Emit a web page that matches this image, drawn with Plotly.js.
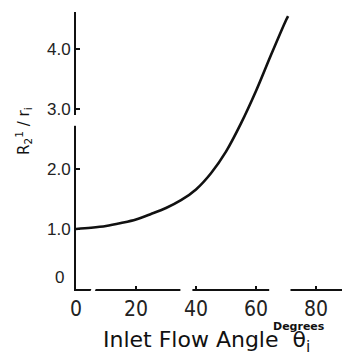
<!DOCTYPE html>
<html>
<head>
<meta charset="utf-8">
<script src="https://cdn.plot.ly/plotly-3.0.1.min.js"></script>
<style>
html,body{margin:0;padding:0;background:#fff;}
#chart{width:342px;height:356px;}
</style>
</head>
<body>
<div id="chart"></div>
<script>
// Data
const inletAngle = [0, 5, 10, 15, 20, 25, 30, 35, 40, 45, 50, 55, 60, 65, 70, 70.7];
const radiusRatio = [1.00, 1.02, 1.05, 1.10, 1.16, 1.25, 1.35, 1.48, 1.66, 1.93, 2.29, 2.76, 3.30, 3.90, 4.48, 4.55];
const xTickVals = [0, 20, 40, 60, 80];
const xTickText = ["0", "20", "40", "60", "80"];
const yTickVals = [1, 2, 3, 4];
const yTickText = ["1.0", "2.0", "3.0", "4.0"];

const trace = {
  x: inletAngle,
  y: radiusRatio,
  type: 'scatter',
  mode: 'lines',
  line: {color: '#111', width: 2.6, shape: 'spline', smoothing: 1},
  hoverinfo: 'skip'
};

const layout = {
  width: 342, height: 356,
  margin: {l: 76, r: 0, t: 12, b: 67, pad: 0},
  paper_bgcolor: '#fff', plot_bgcolor: '#fff',
  showlegend: false,
  font: {family: 'DejaVu Sans, Liberation Sans, sans-serif', color: '#111'},
  xaxis: {
    range: [0, 88.67], fixedrange: true,
    showgrid: false, zeroline: false,
    showline: true, linecolor: '#111', linewidth: 2,
    ticks: 'inside', ticklen: 3, tickwidth: 1.5, tickcolor: '#111',
    tickmode: 'array', tickvals: xTickVals, ticktext: xTickText,
    tickfont: {family: 'Liberation Sans Narrow, DejaVu Sans Condensed, sans-serif', size: 21, color: '#222'}
  },
  yaxis: {
    range: [0, 4.617], fixedrange: true,
    showgrid: false, zeroline: false,
    showline: true, linecolor: '#111', linewidth: 2,
    ticks: 'inside', ticklen: 4, tickwidth: 1.5, tickcolor: '#111',
    tickmode: 'array', tickvals: yTickVals, ticktext: yTickText,
    tickfont: {family: 'Liberation Sans, sans-serif', size: 17, color: '#222'}
  },
  annotations: [
    {text: '0', xref: 'paper', yref: 'y', x: 0, y: 0.2, xanchor: 'right', yanchor: 'middle',
     xshift: -10, showarrow: false, font: {family: 'Liberation Sans, sans-serif', size: 17, color: '#222'}},
    {text: 'R<sub>2</sub><sup>1</sup> / r<sub>i</sub>', xref: 'paper', yref: 'paper',
     x: -0.2, y: 0.57, xanchor: 'center', yanchor: 'middle', textangle: -90,
     showarrow: false, font: {family: 'DejaVu Sans, sans-serif', size: 15, color: '#111'}},
    {text: 'Inlet Flow Angle  θ<sub>i</sub>', xref: 'paper', yref: 'paper',
     x: 0.095, y: -0.13, xanchor: 'left', yanchor: 'top',
     showarrow: false, font: {family: 'DejaVu Sans, sans-serif', size: 22, color: '#111'}},
    {text: '<b>Degrees</b>', xref: 'paper', yref: 'paper',
     x: 0.945, y: -0.103, xanchor: 'right', yanchor: 'top',
     showarrow: false, font: {family: 'DejaVu Sans, sans-serif', size: 11, color: '#111'}}
  ],
  shapes: [
    {type: 'line', layer: 'above', xref: 'x', yref: 'paper', x0: 5.4, x1: 6.3, y0: -0.012, y1: 0.012, line: {color: '#fff', width: 4}},
    {type: 'line', layer: 'above', xref: 'x', yref: 'paper', x0: 34.8, x1: 38.8, y0: -0.01, y1: -0.01, line: {color: '#fff', width: 6}},
    {type: 'line', layer: 'above', xref: 'x', yref: 'paper', x0: 64.4, x1: 71.5, y0: -0.01, y1: -0.01, line: {color: '#fff', width: 6}},
    {type: 'line', layer: 'above', xref: 'paper', yref: 'y', x0: 0, x1: 0, y0: 2.72, y1: 2.9, line: {color: '#fff', width: 6}}
  ]
};

Plotly.newPlot('chart', [trace], layout, {staticPlot: true, displayModeBar: false});
</script>
</body>
</html>
